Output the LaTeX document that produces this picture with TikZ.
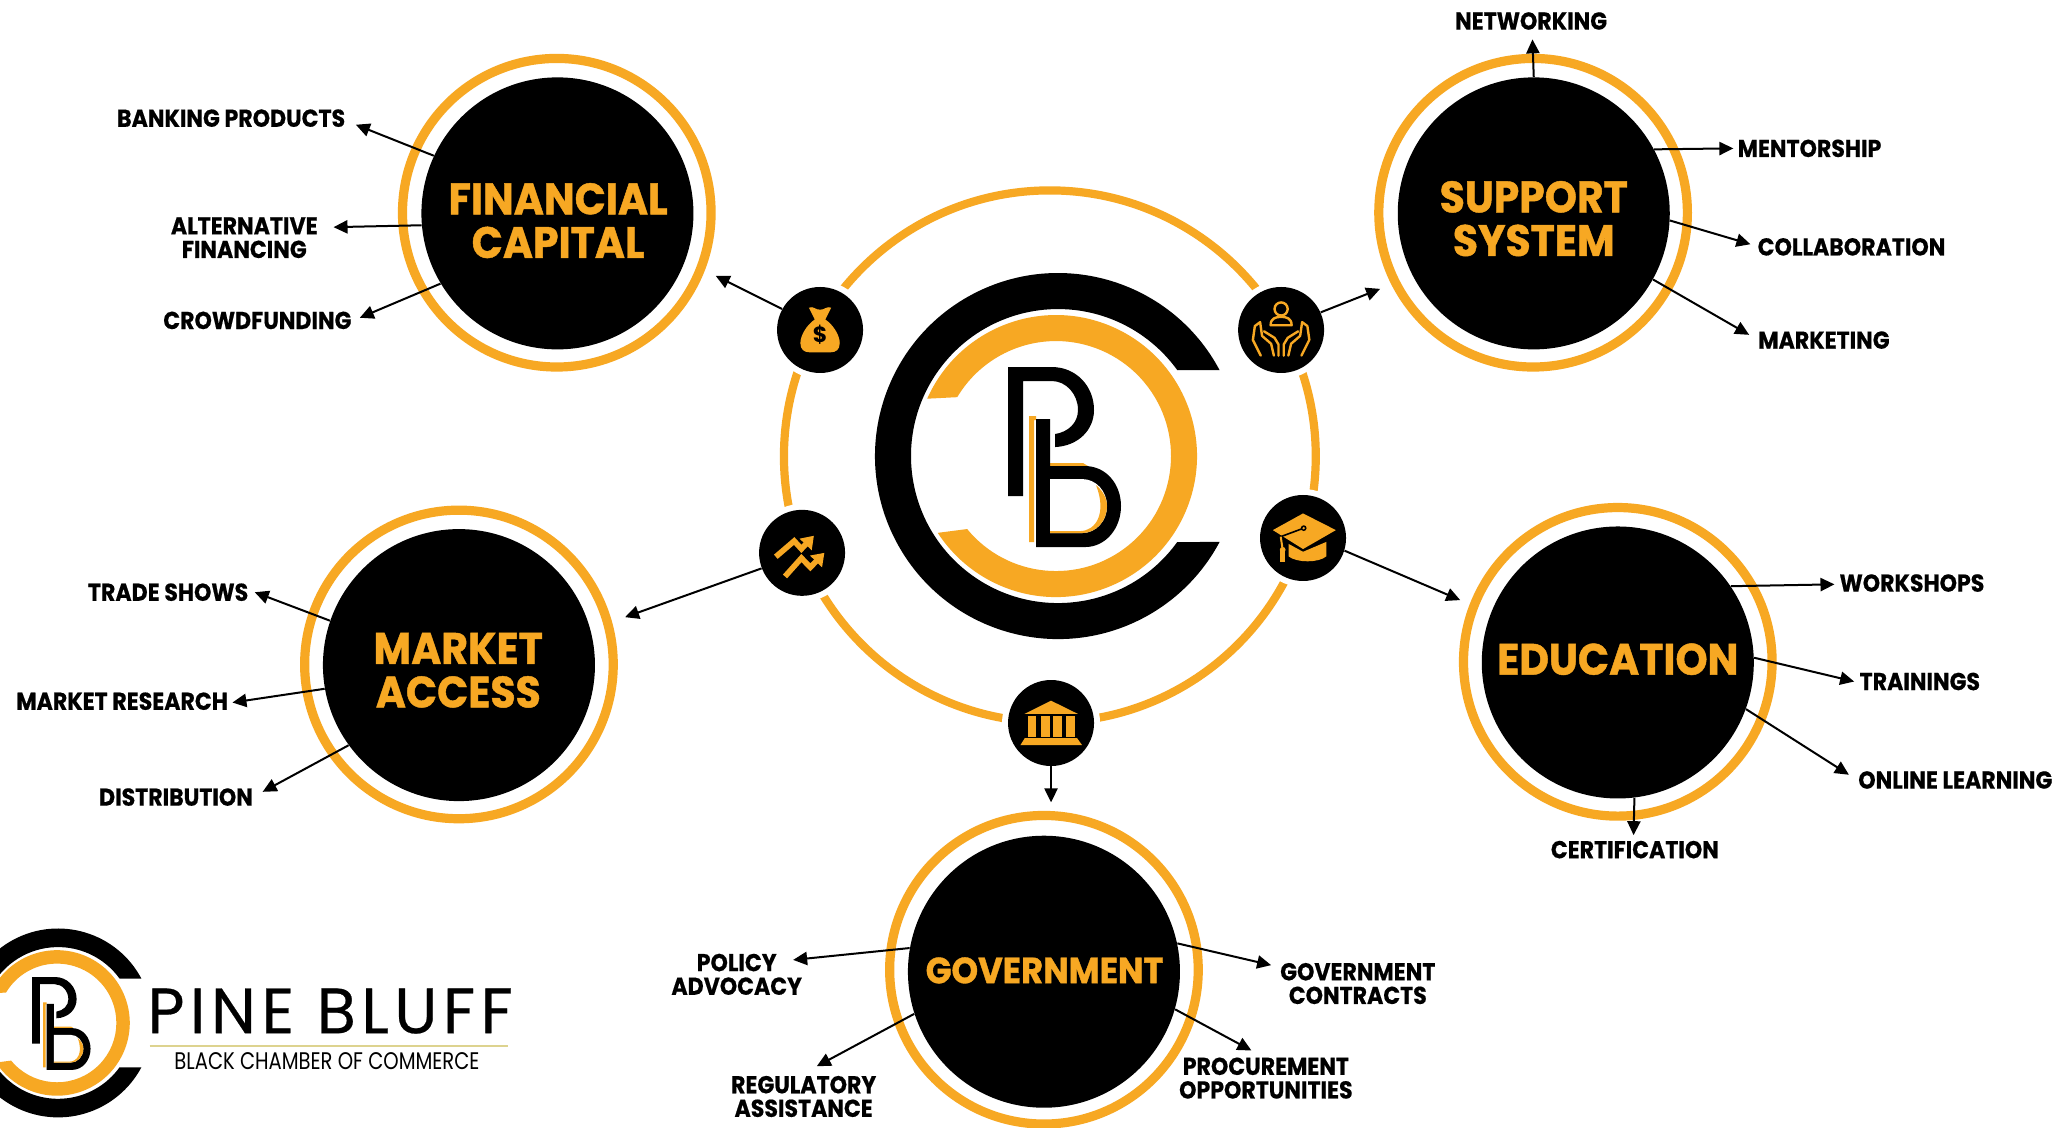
\documentclass[tikz,border=0pt]{standalone}
\usepackage{fontspec}
\setmainfont{Poppins}
\newfontfamily\labf[FakeStretch=0.905,BoldFeatures={FakeStretch=0.905,FakeBold=0.5}]{Poppins}
\newfontfamily\headf[FakeStretch=0.93,BoldFeatures={FakeStretch=0.93,FakeBold=1}]{Poppins}
\newfontfamily\pinef[LetterSpace=8.4,FakeBold=0.4]{Poppins}
\newfontfamily\subf[FakeStretch=0.815]{Poppins}
\usetikzlibrary{arrows.meta,calc}
\definecolor{pbo}{HTML}{F7A823}
\definecolor{pbline}{HTML}{DDD38F}
\tikzset{
  x=0.65655pt,y=-0.65655pt,
  ring/.style={draw=pbo,line width=4.6pt},
  bigc/.style={circle,fill=black,minimum size=136pt,inner sep=0pt},
  headt/.style={inner sep=0pt,text=pbo,align=center,font=\headf\fontsize{22}{21.8}\selectfont\bfseries},
  icon/.style={circle,fill=black,minimum size=43pt,inner sep=0pt,preaction={draw=white,line width=6pt}},
  lab/.style={inner sep=0pt,align=center,text=black,font=\labf\fontsize{12.2}{11.8}\selectfont\bfseries},
  arr/.style={draw=black,line width=1pt,-{Triangle[length=7pt,width=6.6pt]}},
  iconline/.style={draw=pbo,line width=1.2pt,line cap=round,line join=round},
}
\newcommand{\pblogo}[3]{%
\begin{scope}[shift={(#1,#2)},x=#3*0.5pt,y=-#3*0.5pt]
  \fill[black] (-28:183) arc[start angle=-28,end angle=-332,radius=183] -- (-324.2:147) arc[start angle=-324.2,end angle=-35.8,radius=147] -- cycle;
  \begin{scope}[shift={(-2,0)}]
    \fill[pbo] (-156:141) arc[start angle=-156,end angle=147,radius=141] -- (140.6:115) arc[start angle=140.6,end angle=-149.2,radius=115] -- cycle;
  \end{scope}
  \fill[black] (-50,-89)--(-6,-89) .. controls (18,-89) and (36,-70) .. (36,-46) .. controls (36,-26) and (20,-10) .. (-3,-9) -- (-3,-22) .. controls (10,-24) and (20,-33) .. (20,-46) .. controls (20,-62) and (8,-75) .. (-6,-75) -- (-35,-75) -- (-35,40) -- (-50,40) -- cycle;
  \fill[pbo] (-29,-40) -- (-22,-40) -- (-22,-36) -- (-24,-36) -- (-24,86) -- (-29,86) -- cycle;
  \fill[pbo] (-8,7) -- (25,7) -- (30,10) -- (-8,10) -- cycle;
  \fill[black] (-22,-37)--(-8,-37)--(-8,10)--(27,10) .. controls (48,10) and (63,28) .. (63,50) .. controls (63,72) and (48,91) .. (27,91) -- (-22,91) -- cycle;
  \fill[white] (-8,23)--(24,23) .. controls (38,23) and (49,35) .. (49,50) .. controls (49,65) and (38,77) .. (24,77) -- (-8,77) -- cycle;
  \fill[pbo] (38,29) .. controls (45,35) and (49,42) .. (49,50) .. controls (49,65) and (38,77) .. (24,77) -- (-8,77) -- (-8,75) -- (22,75) .. controls (38,75) and (49,57) .. (38,29) -- cycle;
\end{scope}}
\newcommand{\conn}[4]{\coordinate (#1) at (#2,#3); \draw[arr] (#4) -- (#1);}
\begin{document}
\begin{tikzpicture}
\useasboundingbox (0,0) rectangle (1568,859);
\fill[white] (0,0) rectangle (1568,859);
% central ring
\draw[draw=pbo,line width=4.1pt] (799.5,347.5) circle (202.5);
\pblogo{805.7}{347.3}{1}
% big rings and circles
\draw[ring] (424,162) circle (117.5);
\draw[ring] (1167.5,162) circle (117.5);
\draw[ring] (349.5,506) circle (117.5);
\draw[ring] (1232,504) circle (117.5);
\draw[ring] (795,738.5) circle (117.5);
\node[bigc] (fin) at (424.5,162.5) {};
\node[bigc] (sup) at (1168,162.5) {};
\node[bigc] (mkt) at (349.5,506.5) {};
\node[bigc] (edu) at (1232,504.5) {};
\node[bigc] (gov) at (795,740) {};
\node[headt] (finT) at (425,168) {FINANCIAL\\CAPITAL};
\node[headt] (supT) at (1168,166.5) {SUPPORT\\SYSTEM};
\node[headt] (mktT) at (349,510.5) {MARKET\\ACCESS};
\node[headt] (eduT) at (1232,502) {EDUCATION};
\node[headt,font=\headf\fontsize{18.2}{18.2}\selectfont\bfseries] (govT) at (795.5,739) {GOVERNMENT};
% small icon circles
\node[icon] (imon) at (624.5,251.3) {};
\node[icon] (ihan) at (975.6,251.3) {};
\node[icon] (ichr) at (610.8,421) {};
\node[icon] (icap) at (992.3,409.7) {};
\node[icon] (iban) at (800.4,550.6) {};
% money bag
\begin{scope}[shift={(624.5,251.3)}]
  \fill[pbo] (-4,-8) -- (-8.5,-17) .. controls (-5,-18.5) and (-3,-15) .. (0,-15.5) .. controls (3,-15) and (5,-18.5) .. (8.5,-17) -- (4,-8) .. controls (10,-4) and (15,4) .. (15,10) .. controls (15,15) and (12,17) .. (8,17) -- (-8,17) .. controls (-12,17) and (-15,15) .. (-15,10) .. controls (-15,4) and (-10,-4) .. (-4,-8) -- cycle;
  \node[inner sep=0pt,text=black,font=\fontsize{11}{11}\selectfont\bfseries] (dollar) at (0,4) {\$};
\end{scope}
% hands
\begin{scope}[shift={(975.6,251.3)}]
  \draw[iconline] (0,-16) circle (5);
  \draw[iconline] (-8,-3.6) -- (8,-3.6) .. controls (8,-9) and (4,-10) .. (0,-10) .. controls (-4,-10) and (-8,-9) .. (-8,-3.6) -- cycle;
  \foreach \s in {1,-1}{
    \begin{scope}[xscale=\s]
      \draw[iconline] (-15.5,19.5) -- (-21.5,7.5) -- (-20,-3) -- (-16,-6) -- (-14.5,4.5) -- (-7.6,10.5) -- (-5.5,19.5);
      \draw[iconline] (-13,1) -- (-5,6) -- (-2,11) -- (-2,19.5);
    \end{scope}}
\end{scope}
% chart arrows
\begin{scope}[shift={(610.8,421)}]
  \draw[draw=pbo,line width=2.8pt,line join=miter,-{Triangle[length=6pt,width=8pt]}] (-20,3) -- (-6,-9) -- (-0.5,-3) -- (9,-13);
  \draw[draw=pbo,line width=2.8pt,line join=miter,-{Triangle[length=6pt,width=8pt]}] (-13,18) -- (-0.5,4) -- (6.3,11) -- (17,0);
\end{scope}
% graduation cap
\begin{scope}[shift={(992.3,409.7)}]
  \fill[pbo] (-11,4.5) -- (-11,14) .. controls (-5,19) and (12,19) .. (17.7,14) -- (17.7,3) -- (0,10.5) -- cycle;
  \fill[pbo] (-23,-6) -- (0,-18.7) -- (25,-6) -- (0,8.4) -- cycle;
  \draw[black,line width=.8pt] (0.5,-7.5) -- (-17,-1);
  \fill[black] (0.5,-7.5) circle (2.2);
  \fill[pbo] (0.5,-7.5) circle (1);
  \draw[pbo,line width=1pt] (-17,-1) -- (-15.5,9);
  \fill[pbo] (-15.5,9) circle (2.2);
  \fill[pbo] (-17.5,10) rectangle (-13.5,18);
\end{scope}
% bank
\begin{scope}[shift={(800.4,550.6)}]
  \fill[pbo] (-20.3,-6.9) -- (0,-17) -- (20.5,-6.9) -- cycle;
  \fill[pbo] (-17.5,-5.6) rectangle (-11.2,11);
  \fill[pbo] (-7.6,-5.6) rectangle (-1,11);
  \fill[pbo] (1.5,-5.6) rectangle (8.4,11);
  \fill[pbo] (11.4,-5.6) rectangle (18.5,11);
  \fill[pbo] (-23.3,16.8) -- (23.6,16.8) -- (19.8,11.5) -- (-20,11.5) -- cycle;
\end{scope}
% labels
\node[lab] (l1) at (176,90) {BANKING PRODUCTS};
\node[lab] (l2) at (186,181) {ALTERNATIVE\\FINANCING};
\node[lab] (l3) at (196,244) {CROWDFUNDING};
\node[lab] (l4) at (1166,16) {NETWORKING};
\node[lab] (l5) at (1378,113) {MENTORSHIP};
\node[lab] (l6) at (1410,188) {COLLABORATION};
\node[lab] (l7) at (1389,259) {MARKETING};
\node[lab] (l8) at (128,451) {TRADE SHOWS};
\node[lab] (l9) at (93,534) {MARKET RESEARCH};
\node[lab] (l10) at (134,607) {DISTRIBUTION};
\node[lab] (l11) at (1456,444) {WORKSHOPS};
\node[lab] (l12) at (1462,519) {TRAININGS};
\node[lab] (l13) at (1489,594) {ONLINE LEARNING};
\node[lab] (l14) at (1245,647) {CERTIFICATION};
\node[lab] (l15) at (561,742) {POLICY\\ADVOCACY};
\node[lab] (l16) at (612,835) {REGULATORY\\ASSISTANCE};
\node[lab] (l17) at (1034,749) {GOVERNMENT\\CONTRACTS};
\node[lab] (l18) at (964,821) {PROCUREMENT\\OPPORTUNITIES};
% connectors
\conn{t1}{271}{95}{fin.155}
\conn{t2}{254}{173}{fin.185.4}
\conn{t3}{274}{242}{fin.211.6}
\conn{t4}{1167}{30}{sup.90}
\conn{t5}{1320}{113}{sup.28}
\conn{t6}{1333}{186}{sup.-3.7}
\conn{t7}{1332}{255}{sup.-29}
\conn{t8}{194}{451}{mkt.161.4}
\conn{t9}{177}{535}{mkt.190.4}
\conn{t10}{200}{603}{mkt.216.3}
\conn{t11}{1397}{445}{edu.34.3}
\conn{t12}{1412}{519}{edu.2}
\conn{t13}{1408}{590}{edu.-20.6}
\conn{t14}{1244}{636}{edu.-83.5}
\conn{t15}{604}{731}{gov.170.9}
\conn{t16}{622}{812}{gov.198.8}
\conn{t17}{968}{735}{gov.12.6}
\conn{t18}{953}{800}{gov.-16.2}
\conn{t19}{545}{210}{imon.151}
\conn{t20}{1051}{220}{ihan.24.4}
\conn{t21}{476}{470}{ichr.201.5}
\conn{t22}{1112}{457}{icap.-17}
\conn{t23}{800.4}{611}{iban.-90}
% bottom-left logo
\pblogo{44.2}{779}{0.516}
\node[inner sep=0pt,anchor=west,font=\pinef\fontsize{32}{32}\selectfont] (pine) at (112,770) {PINE BLUFF};
\coordinate (rl) at (114,796.5);
\coordinate (rr) at (387,796.5);
\draw[draw=pbline,line width=1pt] (rl) -- (rr);
\node[inner sep=0pt,font=\subf\fontsize{12}{12}\selectfont] (bcc) at (249,808) {BLACK CHAMBER OF COMMERCE};
\end{tikzpicture}
\end{document}
